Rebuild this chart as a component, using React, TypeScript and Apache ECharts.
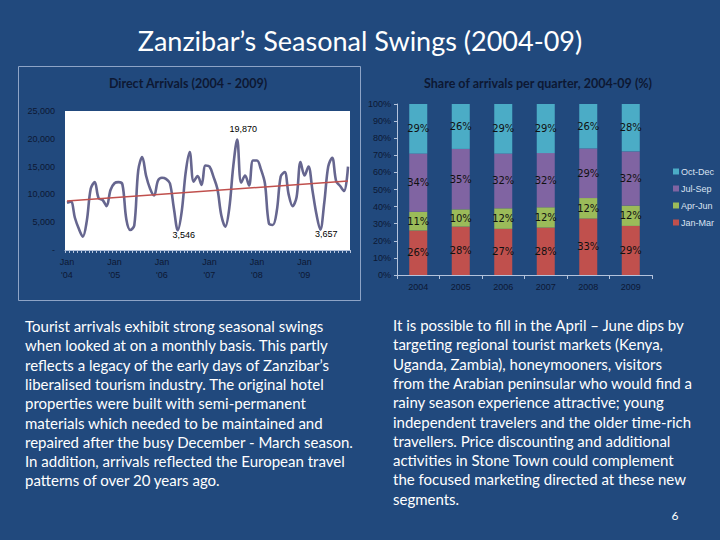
import { useEffect, useRef } from 'react';
import * as echarts from 'echarts';

const years = ['2004', '2005', '2006', '2007', '2008', '2009'];
const monthAbbr = ['Jan', 'Feb', 'Mar', 'Apr', 'May', 'Jun', 'Jul', 'Aug', 'Sep', 'Oct', 'Nov', 'Dec'];

// monthly direct arrivals
const arrivals2004 = [8500, 8700, 5800, 3800, 2400, 5200, 11000, 12200, 9300, 9000, 7900, 10800];
const arrivals2005 = [12000, 12200, 11800, 5500, 3600, 4400, 14300, 16700, 13300, 11000, 9800, 12500];
const arrivals2006 = [13000, 12800, 12000, 7500, 3546, 7000, 14000, 17600, 12300, 13300, 11700, 15200];
const arrivals2007 = [15000, 13200, 11000, 6200, 4200, 7500, 15000, 19870, 12100, 13400, 11600, 16100];
const arrivals2008 = [16100, 14500, 12000, 4800, 4500, 7000, 13200, 14000, 10000, 7900, 9500, 15800];
const arrivals2009 = [13400, 15000, 10800, 6500, 3657, 8500, 15000, 16600, 12400, 11500, 10600, 15000];

// linear trend line, start and end values
const trendStart = 8800;
const trendEnd = 12400;

// points carrying a data label
const labelledMonths = ["Aug '07", "May '06", "May '09"];

// share of arrivals per quarter (%)
const quarters = ['Jan-Mar', 'Apr-Jun', 'Jul-Sep', 'Oct-Dec'];
const shareJanMar = [26, 28, 27, 28, 33, 29];
const shareAprJun = [11, 10, 12, 12, 12, 12];
const shareJulSep = [34, 35, 32, 32, 29, 32];
const shareOctDec = [29, 26, 29, 29, 26, 28];
const quarterColors = ['#c0504d', '#9bbb59', '#8064a2', '#4bacc6'];

const leftText = [
  'Tourist arrivals exhibit strong seasonal swings',
  'when looked at on a monthly basis. This partly',
  'reflects a legacy of the early days of Zanzibar’s',
  'liberalised tourism industry. The original hotel',
  'properties were built with semi-permanent',
  'materials which needed to be maintained and',
  'repaired after the busy December - March season.',
  'In addition, arrivals reflected the European travel',
  'patterns of over 20 years ago.',
];

const rightText = [
  'It is possible to fill in the April – June dips by',
  'targeting regional tourist markets (Kenya,',
  'Uganda, Zambia), honeymooners, visitors',
  'from the Arabian peninsular who would find a',
  'rainy season experience attractive; young',
  'independent travelers and the older time-rich',
  'travellers. Price discounting and additional',
  'activities in Stone Town could complement',
  'the focused marketing directed at these new',
  'segments.',
];

const AXIS_TEXT = '#0d1833';
const AXIS_LINE = '#b4c3dc';
const SMALL_FONT = 'Liberation Sans';

export default function App() {
  const chartRef = useRef<HTMLDivElement>(null);

  useEffect(() => {
    if (!chartRef.current) return;
    const chart = echarts.init(chartRef.current, null, { renderer: 'svg' });

    const months = years.flatMap((y) => monthAbbr.map((m) => `${m} '${y.slice(2)}`));
    const arrivals = [
      ...arrivals2004,
      ...arrivals2005,
      ...arrivals2006,
      ...arrivals2007,
      ...arrivals2008,
      ...arrivals2009,
    ];

    const lineData = arrivals.map((v, i) => {
      const idx = labelledMonths.indexOf(months[i]);
      if (idx < 0) return v;
      const isPeak = idx === 0;
      return {
        value: v,
        label: {
          show: true,
          position: isPeak ? 'top' : 'bottom',
          offset: isPeak ? [6, -1] : [6, -5],
          formatter: (p: any) => Number(p.value).toLocaleString('en-US'),
          color: '#000',
          fontSize: 9,
          fontFamily: SMALL_FONT,
        },
      };
    });

    const shares = [shareJanMar, shareAprJun, shareJulSep, shareOctDec];
    const totals = years.map((_, i) => shares.reduce((s, arr) => s + arr[i], 0));

    const barSeries = quarters.map((q, k) => ({
      name: q,
      type: 'bar',
      stack: 'share',
      xAxisIndex: 1,
      yAxisIndex: 1,
      barWidth: 18,
      itemStyle: { color: quarterColors[k] },
      label: {
        show: true,
        position: 'inside',
        color: '#111',
        fontSize: 10,
        fontFamily: 'DejaVu Sans',
        formatter: (p: any) => `${shares[k][p.dataIndex]}%`,
      },
      data: shares[k].map((v, i) => (v / totals[i]) * 100),
    }));

    const textLines = (lines: string[], x: number, top: number) =>
      lines.map((t, i) => ({
        type: 'text',
        x,
        y: top + i * 19.3,
        style: {
          text: t,
          fill: '#ffffff',
          font: '15px Lato',
          textAlign: 'left',
          textVerticalAlign: 'middle',
        },
      }));

    chart.setOption({
      animation: false,
      backgroundColor: '#21497d',
      grid: [
        { left: 65, right: 370, top: 111, bottom: 290, show: true, backgroundColor: '#ffffff', borderWidth: 0 },
        { left: 397, right: 68, top: 104, bottom: 265 },
      ],
      legend: {
        orient: 'vertical',
        left: 668,
        top: 162,
        itemWidth: 6,
        itemHeight: 6,
        itemGap: 8,
        icon: 'rect',
        data: ['Oct-Dec', 'Jul-Sep', 'Apr-Jun', 'Jan-Mar'],
        textStyle: { color: '#dbe3f1', fontSize: 9, fontFamily: SMALL_FONT, padding: [0, 0, 0, -3] },
      },
      xAxis: [
        {
          type: 'category',
          gridIndex: 0,
          data: months,
          boundaryGap: true,
          axisLine: { lineStyle: { color: AXIS_LINE } },
          axisTick: { show: true, interval: 0, length: 3, lineStyle: { color: AXIS_LINE } },
          axisLabel: {
            interval: (i: number) => i % 12 === 0,
            formatter: (v: string) => v.replace(' ', '\n'),
            color: AXIS_TEXT,
            fontSize: 9,
            fontFamily: SMALL_FONT,
            lineHeight: 13,
            margin: 5,
          },
        },
        {
          type: 'category',
          gridIndex: 1,
          data: years,
          axisLine: { lineStyle: { color: AXIS_LINE } },
          axisTick: { show: true, length: 4, lineStyle: { color: AXIS_LINE } },
          axisLabel: { color: AXIS_TEXT, fontSize: 9, fontFamily: SMALL_FONT, margin: 7 },
        },
      ],
      yAxis: [
        {
          type: 'value',
          gridIndex: 0,
          min: 0,
          max: 25000,
          interval: 5000,
          axisLine: { show: false },
          axisTick: { show: false },
          splitLine: { show: false },
          axisLabel: {
            color: AXIS_TEXT,
            fontSize: 9,
            fontFamily: SMALL_FONT,
            margin: 10,
            formatter: (v: number) => (v === 0 ? '-' : v.toLocaleString('en-US')),
          },
        },
        {
          type: 'value',
          gridIndex: 1,
          min: 0,
          max: 100,
          interval: 10,
          axisLine: { show: true, lineStyle: { color: AXIS_LINE } },
          axisTick: { show: true, length: 3, lineStyle: { color: AXIS_LINE } },
          splitLine: { show: false },
          axisLabel: { color: AXIS_TEXT, fontSize: 9, fontFamily: SMALL_FONT, margin: 6, formatter: '{value}%' },
        },
      ],
      series: [
        {
          name: 'Direct arrivals',
          type: 'line',
          xAxisIndex: 0,
          yAxisIndex: 0,
          data: lineData,
          smooth: 0.35,
          showSymbol: true,
          symbol: 'circle',
          symbolSize: 0,
          lineStyle: { color: '#66668f', width: 2.6 },
          itemStyle: { color: '#66668f' },
          markLine: {
            silent: true,
            symbol: ['none', 'none'],
            label: { show: false },
            lineStyle: { color: '#c0504d', width: 1.5, type: 'solid' },
            data: [[{ coord: [months[0], trendStart] }, { coord: [months[months.length - 1], trendEnd] }]],
          },
        },
        ...barSeries,
      ],
      graphic: [
        {
          type: 'rect',
          shape: { x: 18.5, y: 66.5, width: 342, height: 234 },
          style: { fill: 'none', stroke: '#8ea4c6', lineWidth: 1 },
          silent: true,
        },
        {
          type: 'text',
          x: 360,
          y: 40,
          style: {
            text: 'Zanzibar’s Seasonal Swings (2004-09)',
            fill: '#ffffff',
            font: '27px Lato',
            textAlign: 'center',
            textVerticalAlign: 'middle',
          },
        },
        {
          type: 'text',
          x: 188,
          y: 83,
          style: {
            text: 'Direct Arrivals (2004 - 2009)',
            fill: '#0d1833',
            font: 'bold 12.5px Lato',
            textAlign: 'center',
            textVerticalAlign: 'middle',
          },
        },
        {
          type: 'text',
          x: 538,
          y: 83,
          style: {
            text: 'Share of arrivals per quarter, 2004-09 (%)',
            fill: '#0d1833',
            font: 'bold 12.5px Lato',
            textAlign: 'center',
            textVerticalAlign: 'middle',
          },
        },
        ...textLines(leftText, 25, 326),
        ...textLines(rightText, 393, 325),
        {
          type: 'text',
          x: 675,
          y: 515,
          style: { text: '6', fill: '#ffffff', font: '12px Lato', textAlign: 'center', textVerticalAlign: 'middle' },
        },
      ],
    });

    return () => {
      chart.dispose();
    };
  }, []);

  return (
    <div
      ref={chartRef}
      style={{ position: 'fixed', left: 0, top: 0, width: '720px', height: '540px' }}
    />
  );
}
